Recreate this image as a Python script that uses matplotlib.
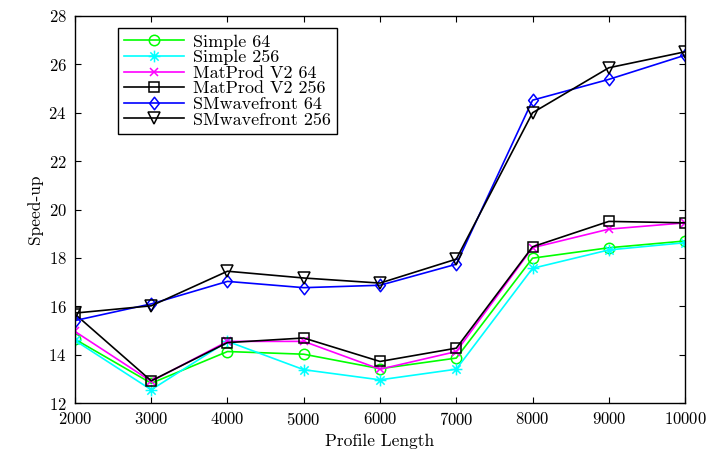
import matplotlib
matplotlib.use("Agg")
import matplotlib.pyplot as plt
from matplotlib.path import Path

plt.rcParams["font.family"] = "serif"
plt.rcParams["font.serif"] = ["cmr10", "DejaVu Serif"]
plt.rcParams["mathtext.fontset"] = "cm"
plt.rcParams["axes.formatter.use_mathtext"] = True

# --------------------------------------------------------------------- #
# Data
# --------------------------------------------------------------------- #
profile_length = [2000, 3000, 4000, 5000, 6000, 7000, 8000, 9000, 10000]

simple_64 = [14.64, 12.82, 14.13, 14.02, 13.42, 13.86, 17.99, 18.42, 18.70]
simple_256 = [14.59, 12.55, 14.55, 13.38, 12.96, 13.40, 17.57, 18.33, 18.63]
matprod_64 = [14.96, 12.90, 14.55, 14.55, 13.40, 14.13, 18.42, 19.19, 19.45]
matprod_256 = [15.68, 12.92, 14.50, 14.69, 13.72, 14.27, 18.46, 19.51, 19.45]
smwave_64 = [15.41, 16.10, 17.03, 16.77, 16.87, 17.74, 24.52, 25.38, 26.38]
smwave_256 = [15.72, 16.02, 17.45, 17.17, 16.96, 17.95, 24.00, 25.86, 26.52]

labels = ["Simple 64", "Simple 256", "MatProd V2 64", "MatProd V2 256",
          "SMwavefront 64", "SMwavefront 256"]
series = [simple_64, simple_256, matprod_64, matprod_256, smwave_64, smwave_256]

# MATLAB-style asterisk: plus overlaid with a cross
_a = 0.7071
asterisk = Path(
    [(-1, 0), (1, 0), (0, -1), (0, 1), (-_a, -_a), (_a, _a), (-_a, _a), (_a, -_a)],
    [Path.MOVETO, Path.LINETO] * 4,
)
# MATLAB diamond is a touch taller than wide
diamond = Path([(0, 1), (0.78, 0), (0, -1), (-0.78, 0), (0, 1)],
               [Path.MOVETO] + [Path.LINETO] * 3 + [Path.CLOSEPOLY])

styles = [
    dict(color=(0, 1, 0), marker="o", ms=7.5),
    dict(color=(0, 1, 1), marker=asterisk, ms=8.5),
    dict(color=(1, 0, 1), marker="x", ms=5.5),
    dict(color="black", marker="s", ms=7),
    dict(color=(0, 0, 1), marker=diamond, ms=9),
    dict(color="black", marker="v", ms=8.5),
]

fig = plt.figure(figsize=(7.07, 4.57), dpi=100)
ax = fig.add_axes([0.106, 0.118, 0.863, 0.847])

for y, lab, st in zip(series, labels, styles):
    ax.plot(profile_length, y, label=lab, color=st["color"], marker=st["marker"],
            markersize=st["ms"], markerfacecolor="none", markeredgecolor=st["color"],
            markeredgewidth=1.1, linewidth=1.2)

ax.set_xlim(2000, 10000)
ax.set_ylim(12, 28)
ax.set_xticks(profile_length)
ax.set_yticks(range(12, 29, 2))
ax.tick_params(direction="in", top=True, right=True, labelsize=12, length=4,
               width=0.8, pad=6)
for sp in ax.spines.values():
    sp.set_linewidth(1.0)

ax.set_xlabel("Profile Length", fontsize=12.5)
ax.set_ylabel("Speed-up", fontsize=12.5)

leg = ax.legend(loc="upper left", bbox_to_anchor=(0.07, 0.97), fontsize=13,
                frameon=True, fancybox=False, edgecolor="black", framealpha=1,
                handlelength=3.3, labelspacing=0.0, borderpad=0.35,
                handletextpad=0.5, borderaxespad=0)
leg.get_frame().set_linewidth(1.0)

fig.savefig("out.png", dpi=100)
